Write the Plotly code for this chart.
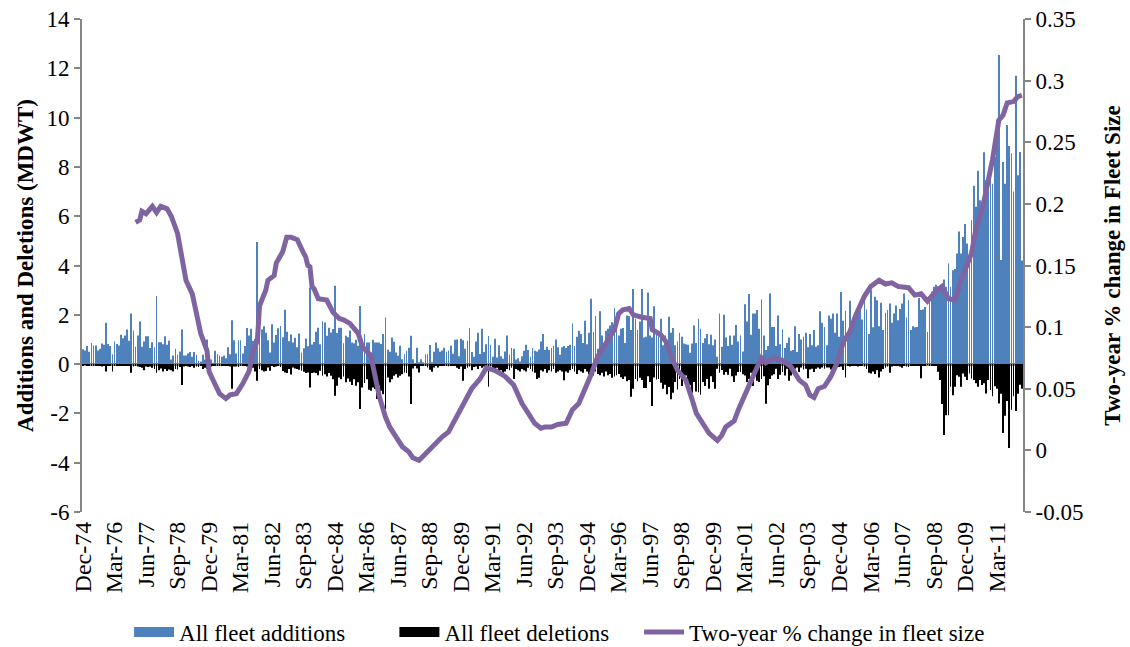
import pandas as pd
import plotly.graph_objects as go

# ---------------- data ----------------
start_month = "1974-12"          # first monthly category (Dec-74)

# All fleet additions (MDWT), monthly from Dec-74
additions = [
    # Dec-74 .. Mar-82 (88 months)
    0.6, 0.55, 0.73, 0.5, 0.86, 0.75, 0.75, 0.55, 0.62, 0.84,
    0.78, 1.68, 0.82, 0.73, 0.4, 0.92, 0.82, 0.75, 1.19, 1.05,
    1.16, 1.4, 0.95, 2.05, 1.36, 0.7, 1.16, 1.73, 0.7, 0.92,
    1.13, 1.13, 0.65, 0.89, 0.68, 2.76, 0.89, 0.89, 0.81, 1.13,
    0.78, 0.95, 0.19, 0.35, 0.62, 0.38, 0.51, 1.4, 0.35, 0.35,
    0.43, 0.49, 0.3, 0.49, 0.38, 0.14, 0.11, 0.38, 0.19, 1.0,
    0.19, 0.19, 0.05, 0.54, 0.4, 0.35, 0.3, 0.35, 0.24, 0.68,
    0.4, 1.78, 0.97, 0.43, 0.97, 0.97, 0.43, 0.73, 1.46, 1.16,
    1.43, 0.95, 1.03, 4.95, 1.05, 1.4, 1.54, 1.27,
    # Apr-82 .. Sep-89 (90 months)
    0.97, 0.47, 1.62, 0.88, 1.18, 1.45, 1.55, 1.09, 2.2, 1.31,
    0.93, 1.2, 0.88, 1.07, 0.68, 1.24, 0.47, 0.64, 1.04, 0.72,
    3.1, 0.8, 0.9, 1.31, 1.47, 0.81, 1.74, 1.69, 1.15, 1.47,
    1.28, 1.42, 3.18, 1.26, 1.47, 1.47, 0.85, 1.15, 1.09, 1.36,
    0.88, 0.85, 0.99, 0.74, 2.36, 0.82, 1.22, 0.88, 0.88, 0.47,
    0.99, 0.88, 0.88, 0.88, 0.82, 1.22, 1.89, 0.58, 0.5, 1.08,
    0.91, 0.47, 0.34, 0.74, 0.2, 0.4, 0.54, 0.66, 1.15, 0.2,
    0.02, 0.66, 0.07, 0.2, 0.07, 0.4, 0.4, 0.77, 0.07, 0.5,
    0.88, 0.64, 0.5, 0.55, 0.66, 0.5, 0.55, 0.74, 0.42, 0.99,
    # Oct-89 .. Mar-97 (90 months)
    1.0, 0.32, 1.03, 0.97, 0.62, 0.95, 1.46, 0.49, 0.3, 0.92,
    1.27, 0.41, 1.43, 0.49, 0.81, 1.14, 0.78, 0.3, 1.03, 0.27,
    0.76, 0.32, 0.22, 0.51, 1.16, 0.38, 0.65, 0.62, 0.19, 0.24,
    0.11, 0.32, 0.54, 0.78, 0.57, 0.3, 0.65, 0.54, 0.51, 0.59,
    0.92, 1.22, 0.57, 0.7, 0.57, 0.65, 0.73, 1.0, 0.68, 0.38,
    0.68, 0.73, 0.65, 0.73, 0.78, 1.65, 0.73, 1.11, 1.35, 1.22,
    0.86, 1.76, 0.81, 1.27, 2.65, 1.3, 1.95, 0.62, 2.14, 1.16,
    0.81, 1.35, 1.43, 1.57, 1.7, 2.27, 1.84, 1.16, 1.43, 1.46,
    0.86, 1.97, 1.95, 1.38, 3.05, 1.84, 1.38, 1.73, 3.05, 1.08,
    # Apr-97 .. Sep-04 (90 months)
    1.11, 2.9, 1.16, 1.08, 2.35, 1.3, 1.3, 1.84, 0.76, 1.16,
    0.76, 1.92, 1.27, 1.46, 0.76, 0.92, 1.27, 1.11, 0.84, 0.81,
    0.78, 0.46, 0.84, 1.57, 0.86, 1.84, 1.43, 0.86, 1.05, 1.22,
    0.81, 1.19, 0.76, 1.0, 0.3, 2.05, 0.7, 2.0, 1.08, 0.73,
    1.16, 0.78, 1.16, 1.59, 0.92, 1.16, 0.51, 2.43, 1.73, 2.84,
    1.19, 2.05, 2.05, 2.19, 1.43, 2.62, 1.16, 0.57, 0.73, 2.86,
    1.51, 1.51, 0.73, 1.97, 0.81, 1.41, 0.65, 0.86, 1.08, 0.54,
    0.57, 1.54, 0.49, 1.22, 1.0, 1.11, 1.27, 0.68, 1.22, 0.76,
    1.38, 0.7, 0.76, 2.14, 1.68, 1.51, 0.76, 1.97, 1.84, 2.05,
    # Oct-04 .. Mar-12 (90 months)
    1.27, 2.05, 1.11, 2.92, 1.76, 2.16, 1.24, 2.57, 1.38, 1.78,
    2.05, 2.11, 2.19, 1.81, 2.59, 2.22, 1.22, 3.0, 1.49, 2.73,
    2.59, 1.54, 2.49, 1.38, 2.08, 2.19, 2.46, 1.68, 2.05, 2.38,
    1.78, 2.24, 2.46, 2.86, 1.89, 2.59, 1.38, 1.54, 1.49, 1.51,
    2.68, 2.19, 2.22, 2.32, 1.3, 2.51, 2.95, 3.14, 3.22, 3.16,
    3.05, 3.08, 3.43, 3.14, 4.08, 3.14, 3.81, 3.86, 4.49, 5.38,
    4.49, 5.16, 5.68, 4.89, 4.22, 5.84, 7.24, 6.38, 7.84, 6.65,
    6.38, 8.59, 7.46, 7.73, 8.0, 7.32, 8.41, 9.89, 12.54, 4.22,
    8.2, 7.32, 9.7, 8.85, 8.55, 7.0, 11.7, 7.66, 8.6, 4.2,
]

# All fleet deletions (MDWT, magnitude; drawn below zero)
deletions = [
    0.05, 0.03, 0.05, 0.04, 0.06, 0.05, 0.08, 0.05, 0.06, 0.1,
    0.08, 0.3, 0.05, 0.05, 0.3, 0.05, 0.08, 0.06, 0.04, 0.05,
    0.08, 0.06, 0.05, 0.35, 0.1, 0.06, 0.1, 0.12, 0.15, 0.25,
    0.1, 0.12, 0.1, 0.15, 0.2, 0.35, 0.25, 0.18, 0.3, 0.2,
    0.28, 0.22, 0.25, 0.3, 0.2, 0.22, 0.12, 0.85, 0.1, 0.05,
    0.1, 0.12, 0.08, 0.15, 0.1, 0.12, 0.08, 0.2, 0.15, 0.2,
    0.3, 0.1, 0.05, 0.05, 0.04, 0.08, 0.05, 0.05, 0.06, 0.05,
    0.1, 1.0, 0.1, 0.1, 0.12, 0.08, 0.05, 0.05, 0.1, 0.2,
    0.25, 0.15, 0.3, 0.68, 0.2, 0.25, 0.3, 0.28,
    0.14, 0.27, 0.07, 0.12, 0.1, 0.07, 0.12, 0.28, 0.34, 0.36,
    0.2, 0.42, 0.14, 0.18, 0.2, 0.23, 0.27, 0.31, 0.36, 0.34,
    0.95, 0.36, 0.34, 0.36, 0.45, 0.27, 0.47, 0.41, 0.5, 0.36,
    0.47, 0.61, 1.28, 0.88, 0.54, 0.61, 0.5, 0.74, 0.58, 0.72,
    0.85, 0.61, 0.88, 0.74, 1.82, 0.95, 0.77, 0.61, 1.04, 1.08,
    0.95, 1.01, 1.42, 0.88, 1.08, 1.22, 1.82, 0.54, 0.74, 0.61,
    0.47, 0.41, 0.54, 0.47, 0.41, 0.34, 0.36, 0.5, 1.62, 0.18,
    0.07, 0.18, 0.34, 0.07, 0.04, 0.07, 0.14, 0.23, 0.31, 0.14,
    0.07, 0.14, 0.07, 0.04, 0.07, 0.04, 0.09, 0.07, 0.04, 0.07,
    0.15, 0.2, 0.1, 0.68, 0.2, 0.15, 0.1, 0.25, 0.12, 0.1,
    0.2, 0.08, 0.15, 0.1, 0.12, 0.92, 0.1, 0.2, 0.25, 0.15,
    0.3, 0.25, 0.35, 0.3, 0.2, 0.25, 0.15, 0.6, 0.2, 0.25,
    0.3, 0.2, 0.25, 0.3, 0.15, 0.2, 0.3, 0.35, 0.6, 0.55,
    0.25, 0.3, 0.2, 0.35, 0.25, 0.3, 0.2, 0.35, 0.3, 0.25,
    0.3, 0.66, 0.3, 0.35, 0.25, 0.2, 0.3, 0.4, 0.25, 0.3,
    0.35, 0.2, 0.3, 0.4, 0.35, 0.46, 0.3, 0.4, 0.45, 0.35,
    0.5, 0.3, 0.45, 0.4, 0.55, 0.5, 0.45, 0.4, 0.53, 0.6,
    0.5, 0.7, 0.65, 1.32, 1.0, 0.6, 0.7, 0.55, 0.65, 0.97,
    0.97, 0.49, 0.73, 1.7, 0.54, 0.62, 0.6, 0.76, 1.0, 0.84,
    1.22, 0.93, 1.43, 1.16, 0.73, 1.03, 0.6, 0.89, 0.65, 0.46,
    0.73, 0.86, 1.16, 0.73, 1.11, 1.14, 1.24, 0.73, 0.89, 0.6,
    1.0, 0.49, 0.73, 1.0, 0.19, 0.35, 0.24, 0.43, 0.32, 0.43,
    0.19, 0.49, 0.73, 0.46, 0.32, 0.32, 0.41, 0.46, 0.73, 0.6,
    0.35, 0.89, 0.43, 0.68, 0.73, 0.6, 0.49, 1.61, 0.86, 0.6,
    0.46, 0.41, 0.19, 0.6, 0.43, 0.32, 0.46, 0.19, 0.68, 0.46,
    0.24, 0.19, 0.14, 0.32, 0.14, 0.22, 0.19, 0.57, 0.22, 0.19,
    0.32, 0.19, 0.14, 0.19, 0.14, 0.19, 0.14, 0.14, 0.22, 0.19,
    0.1, 0.06, 0.12, 0.1, 0.24, 0.54, 0.08, 0.1, 0.05, 0.08,
    0.06, 0.1, 0.05, 0.08, 0.1, 0.2, 0.35, 0.38, 0.3, 0.4,
    0.25, 0.54, 0.3, 0.2, 0.15, 0.1, 0.35, 0.1, 0.05, 0.08,
    0.06, 0.1, 0.15, 0.08, 0.1, 0.12, 0.06, 0.05, 0.08, 0.05,
    0.06, 0.57, 0.05, 0.04, 0.03, 0.05, 0.04, 0.05, 0.06, 0.31,
    0.65, 1.62, 2.88, 2.07, 2.07, 0.92, 1.26, 0.92, 0.45, 0.51,
    0.92, 0.38, 0.51, 0.65, 0.38, 0.58, 0.65, 0.78, 0.92, 0.65,
    0.85, 0.78, 1.19, 0.65, 1.05, 1.3, 0.9, 1.0, 1.6, 1.2,
    2.8, 2.1, 1.5, 3.4, 1.85, 1.3, 1.9, 1.2, 0.84, 1.0,
]

# Two-year % change in fleet size (right axis), read at these months
line_dates = [
    "1977-01", "1977-03", "1977-04", "1977-06", "1977-09", "1977-11", "1978-01", "1978-04",
    "1978-06", "1978-09", "1978-11", "1979-01", "1979-04", "1979-06", "1979-08", "1979-11",
    "1979-12", "1980-03", "1980-05", "1980-08", "1980-10", "1981-01", "1981-04", "1981-07",
    "1981-09", "1981-11", "1981-12", "1982-03", "1982-04", "1982-07", "1982-08", "1982-11",
    "1983-01", "1983-03", "1983-06", "1983-09", "1983-10", "1983-11", "1983-12", "1984-01",
    "1984-02", "1984-04", "1984-08", "1984-11", "1985-02", "1985-04", "1985-07", "1985-11",
    "1986-01", "1986-05", "1986-07", "1986-09", "1986-12", "1987-02", "1987-05", "1987-08",
    "1987-11", "1988-01", "1988-04", "1988-08", "1988-11", "1989-03", "1989-06", "1989-10",
    "1990-01", "1990-05", "1990-09", "1990-12", "1991-04", "1991-09", "1992-01", "1992-05",
    "1992-08", "1992-11", "1993-02", "1993-04", "1993-07", "1993-10", "1994-02", "1994-05",
    "1994-08", "1994-11", "1995-02", "1995-05", "1995-09", "1996-01", "1996-03", "1996-05",
    "1996-08", "1996-10", "1997-02", "1997-06", "1997-07", "1997-11", "1998-02", "1998-04",
    "1998-07", "1998-11", "1999-02", "1999-04", "1999-07", "1999-10", "2000-02", "2000-04",
    "2000-06", "2000-10", "2000-12", "2001-02", "2001-05", "2001-08", "2001-11", "2002-01",
    "2002-05", "2002-09", "2003-01", "2003-05", "2003-08", "2003-10", "2003-12", "2004-02",
    "2004-05", "2004-08", "2004-11", "2005-02", "2005-05", "2005-08", "2005-12", "2006-03",
    "2006-07", "2006-10", "2007-01", "2007-04", "2007-09", "2007-12", "2008-03", "2008-06",
    "2008-10", "2009-01", "2009-04", "2009-07", "2009-10", "2010-01", "2010-03", "2010-05",
    "2010-08", "2010-10", "2011-01", "2011-04", "2011-06", "2011-08", "2011-11", "2012-01",
    "2012-03",
]
line_values = [
    0.185, 0.187, 0.194, 0.192, 0.198, 0.193, 0.198, 0.196,
    0.19, 0.176, 0.157, 0.138, 0.127, 0.111, 0.095, 0.081,
    0.064, 0.053, 0.046, 0.042, 0.045, 0.046, 0.054, 0.064,
    0.081, 0.089, 0.117, 0.13, 0.138, 0.142, 0.152, 0.161,
    0.173, 0.173, 0.171, 0.16, 0.157, 0.15, 0.149, 0.133,
    0.131, 0.123, 0.122, 0.112, 0.107, 0.106, 0.103, 0.095,
    0.084, 0.077, 0.06, 0.044, 0.027, 0.019, 0.011, 0.003,
    -0.001, -0.006, -0.008, -0.001, 0.004, 0.011, 0.015, 0.027,
    0.038, 0.05, 0.058, 0.067, 0.065, 0.06, 0.053, 0.038,
    0.03, 0.022, 0.018, 0.019, 0.019, 0.021, 0.022, 0.033,
    0.038, 0.049, 0.062, 0.076, 0.087, 0.098, 0.111, 0.114,
    0.115, 0.11, 0.108, 0.107, 0.098, 0.094, 0.087, 0.076,
    0.065, 0.057, 0.041, 0.03, 0.022, 0.014, 0.008, 0.012,
    0.019, 0.024, 0.033, 0.041, 0.054, 0.064, 0.075, 0.071,
    0.075, 0.073, 0.068, 0.057, 0.053, 0.045, 0.043, 0.05,
    0.052, 0.06, 0.071, 0.088, 0.096, 0.11, 0.125, 0.133,
    0.138, 0.135, 0.136, 0.133, 0.132, 0.126, 0.127, 0.121,
    0.129, 0.133, 0.123, 0.122, 0.138, 0.153, 0.16, 0.179,
    0.195, 0.211, 0.236, 0.268, 0.272, 0.282, 0.283, 0.287,
    0.288,
]

left_tick_values = [-6, -4, -2, 0, 2, 4, 6, 8, 10, 12, 14]
left_tick_labels = ["-6", "-4", "-2", "0", "2", "4", "6", "8", "10", "12", "14"]
right_tick_values = [-0.05, 0, 0.05, 0.1, 0.15, 0.2, 0.25, 0.3, 0.35]
right_tick_labels = ["-0.05", "0", "0.05", "0.1", "0.15", "0.2", "0.25", "0.3", "0.35"]
label_every = 15  # months between category labels

series_names = ["All fleet additions", "All fleet deletions", "Two-year % change in fleet size"]
left_title = "Additions and Deletions (MDWT)"
right_title = "Two-year % change in Fleet Size"

# ---------------- figure ----------------
months = pd.date_range(start_month, periods=len(additions), freq="MS")
month_labels = months.strftime("%b-%y").tolist()
tick_labels = month_labels[::label_every]
line_labels = pd.to_datetime(line_dates).strftime("%b-%y").tolist()

BLUE = "#4F81BD"
PURPLE = "#8064A2"
AXIS = "#868686"
FONT = "Liberation Serif"

fig = go.Figure()
fig.add_trace(go.Bar(x=month_labels, y=additions, marker=dict(color=BLUE, line=dict(width=0)),
                     showlegend=False, hoverinfo="skip"))
fig.add_trace(go.Bar(x=month_labels[:len(deletions)], y=[-v for v in deletions],
                     marker=dict(color="#000000", line=dict(width=0)),
                     showlegend=False, hoverinfo="skip"))
# legend keys (one legend box each, laid out like the original)
fig.add_trace(go.Scatter(x=[None], y=[None], mode="lines", name=series_names[0],
                         line=dict(color=BLUE, width=11), legend="legend"))
fig.add_trace(go.Scatter(x=[None], y=[None], mode="lines", name=series_names[1],
                         line=dict(color="#000000", width=11), legend="legend2"))
fig.add_trace(go.Scatter(x=line_labels, y=line_values, yaxis="y2", mode="lines",
                         name=series_names[2], line=dict(color=PURPLE, width=5),
                         legend="legend3", showlegend=True))

legend_common = dict(orientation="h", xanchor="left", yref="container", y=0.023,
                     yanchor="middle", font=dict(size=23), itemwidth=40,
                     bgcolor="rgba(0,0,0,0)")

fig.update_layout(
    width=1130, height=647,
    margin=dict(l=82, r=107, t=19, b=135),
    paper_bgcolor="white", plot_bgcolor="white",
    font=dict(family=FONT, size=23, color="black"),
    barmode="relative", bargap=0.6,
    showlegend=True,
    legend=dict(x=0.050, **legend_common),
    legend2=dict(x=0.332, **legend_common),
    legend3=dict(x=0.592, **legend_common),
    xaxis=dict(type="category", categoryorder="array", categoryarray=month_labels,
               tickmode="array", tickvals=tick_labels, ticktext=tick_labels,
               tickangle=-90, showgrid=False, showline=False, ticks="",
               zeroline=False, tickfont=dict(size=24), automargin=False,
               ticklabelstandoff=4),
    yaxis=dict(range=[-6, 14], tickmode="array", tickvals=left_tick_values,
               ticktext=left_tick_labels, showgrid=False, showline=True,
               linecolor=AXIS, linewidth=2, ticks="outside", ticklen=6,
               tickcolor=AXIS, tickwidth=1.5, zeroline=True, zerolinecolor=AXIS,
               zerolinewidth=2.5, tickfont=dict(size=23), automargin=False,
               title=dict(text="<b>" + left_title + "</b>", font=dict(size=23), standoff=6)),
    yaxis2=dict(range=[-0.05, 0.35], overlaying="y", side="right", tickmode="array",
                tickvals=right_tick_values, ticktext=right_tick_labels,
                showgrid=False, showline=True, linecolor=AXIS, linewidth=2,
                ticks="outside", ticklen=6, tickcolor=AXIS, tickwidth=1.5,
                zeroline=False, tickfont=dict(size=23), automargin=False,
                title=dict(text="<b>" + right_title + "</b>", font=dict(size=23), standoff=21)),
)

fig.write_html("out.html", config={"displayModeBar": False},
               post_script="document.body.style.margin='0';")
